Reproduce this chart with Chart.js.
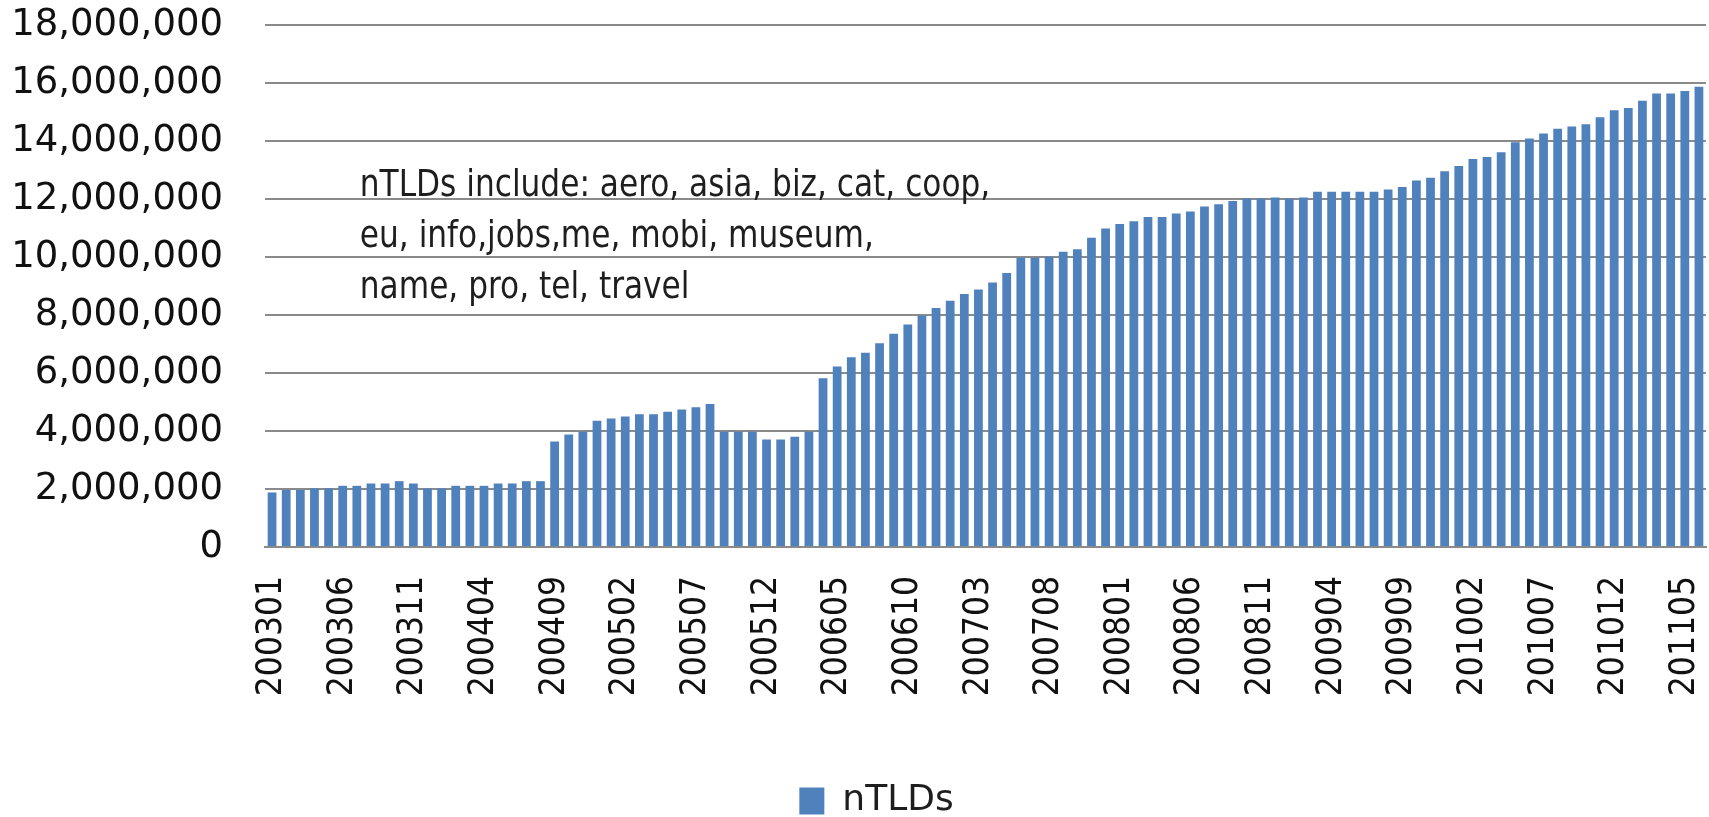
<!doctype html>
<html>
  <head>
    <title>nTLDs</title>
    <script src="https://cdn.jsdelivr.net/npm/chart.js@4/dist/chart.umd.min.js"></script>
    <style>
        * { margin: 0; padding: 0; box-sizing: border-box; }
        html, body { background: #fff; overflow: hidden; }
        #wrap { position: relative; width: 1709px; height: 817px; }
    </style>
  </head>
  <body>
    <div id="wrap"><canvas id="myCanvas"></canvas></div>

    <script>
    // monthly registrations, 2003-01 .. 2011-06
    const months = [
      '200301','200302','200303','200304','200305','200306','200307','200308','200309','200310','200311','200312',
      '200401','200402','200403','200404','200405','200406','200407','200408','200409','200410','200411','200412',
      '200501','200502','200503','200504','200505','200506','200507','200508','200509','200510','200511','200512',
      '200601','200602','200603','200604','200605','200606','200607','200608','200609','200610','200611','200612',
      '200701','200702','200703','200704','200705','200706','200707','200708','200709','200710','200711','200712',
      '200801','200802','200803','200804','200805','200806','200807','200808','200809','200810','200811','200812',
      '200901','200902','200903','200904','200905','200906','200907','200908','200909','200910','200911','200912',
      '201001','201002','201003','201004','201005','201006','201007','201008','201009','201010','201011','201012',
      '201101','201102','201103','201104','201105','201106'
    ];

    const ntlds = [
      1880000,1970000,1970000,2020000,2020000,2110000,2110000,2190000,2190000,2270000,2190000,2020000,
      2020000,2110000,2110000,2110000,2190000,2190000,2270000,2270000,3640000,3880000,3970000,4350000,
      4430000,4500000,4580000,4580000,4660000,4740000,4820000,4930000,3970000,3970000,3970000,3710000,
      3710000,3800000,3970000,5820000,6220000,6540000,6700000,7030000,7350000,7670000,7980000,8240000,
      8490000,8720000,8880000,9120000,9450000,9970000,9970000,10010000,10180000,10270000,10660000,10980000,
      11140000,11230000,11380000,11380000,11500000,11570000,11740000,11820000,11930000,12020000,12020000,12050000,
      12020000,12050000,12250000,12250000,12250000,12250000,12250000,12330000,12410000,12640000,12730000,12960000,
      13140000,13380000,13450000,13610000,13960000,14090000,14260000,14420000,14500000,14580000,14820000,15060000,
      15140000,15390000,15640000,15640000,15720000,15870000
    ];

    const yTicks = [0,2000000,4000000,6000000,8000000,10000000,12000000,14000000,16000000,18000000];

    const note = [
      'nTLDs include: aero, asia, biz, cat, coop,',
      'eu, info,jobs,me, mobi, museum,',
      'name, pro, tel, travel'
    ];

    const narrow = '"DejaVu Sans Condensed", "DejaVu Sans", sans-serif';

    // text box inside the plot, anchored on the scales
    const notePlugin = {
      id: 'note',
      afterLayout(chart) {
        // legend in the original sits a little right of the page centre
        chart.legend.left += 22;
        chart.legend.right += 22;
      },
      afterDatasetsDraw(chart) {
        const c = chart.ctx;
        const x = chart.scales.x.getPixelForValue(6) + 3;
        const y0 = chart.scales.y.getPixelForValue(12450000);
        c.save();
        c.translate(x, y0);
        c.scale(0.913, 1);
        c.font = '38px ' + narrow;
        c.fillStyle = '#1e1e1e';
        c.textBaseline = 'middle';
        note.forEach((line, i) => c.fillText(line, 0, i * 51));
        c.restore();
      }
    };

    var ctx = document.getElementById('myCanvas').getContext('2d');
    var myChart = new Chart(ctx, {
        type: 'bar',
        data: {
            labels: months,
            datasets: [{
              label: 'nTLDs',
              data: ntlds,
              backgroundColor: '#4f81bd',
              borderWidth: 0,
              categoryPercentage: 1,
              barPercentage: 0.62
            }]
        },
        options: {
          responsive: true,
          maintainAspectRatio: false,
          animation: false,
          layout: { padding: { top: 25, left: 3, right: 3, bottom: 0 } },
          plugins: {
            tooltip: { enabled: false },
            legend: {
              position: 'bottom',
              maxHeight: 34,
              labels: {
                boxWidth: 25,
                boxHeight: 27,
                padding: 0,
                color: '#1e1e1e',
                font: { family: '"DejaVu Sans", sans-serif', size: 36 }
              }
            }
          },
          scales: {
            x: {
              grid: { display: false, drawTicks: false },
              border: { display: true, color: '#8a8a8a', width: 2 },
              ticks: {
                autoSkip: false,
                minRotation: 90,
                maxRotation: 90,
                padding: 29,
                color: '#111',
                font: { family: narrow, size: 35 },
                callback: (v, i) => (i % 5 === 0 ? months[i] : '')
              },
              afterFit: (scale) => {
                scale.height = 236;
                scale.paddingLeft = 0;
                scale.paddingRight = 0;
              }
            },
            y: {
              min: 0,
              max: 18000000,
              afterBuildTicks: (scale) => { scale.ticks = yTicks.map(v => ({ value: v })); },
              grid: { color: '#8a8a8a', lineWidth: 2, drawTicks: false },
              border: { display: false },
              ticks: {
                padding: 42,
                color: '#111',
                font: { family: '"DejaVu Sans", sans-serif', size: 37 },
                callback: (v) => Number(v).toLocaleString('en-US')
              },
              afterFit: (scale) => {
                scale.width = 262;
                scale.paddingTop = 0;
                scale.paddingBottom = 0;
              }
            }
          }
        },
        plugins: [notePlugin]
    });
    </script>
  </body>
</html>
